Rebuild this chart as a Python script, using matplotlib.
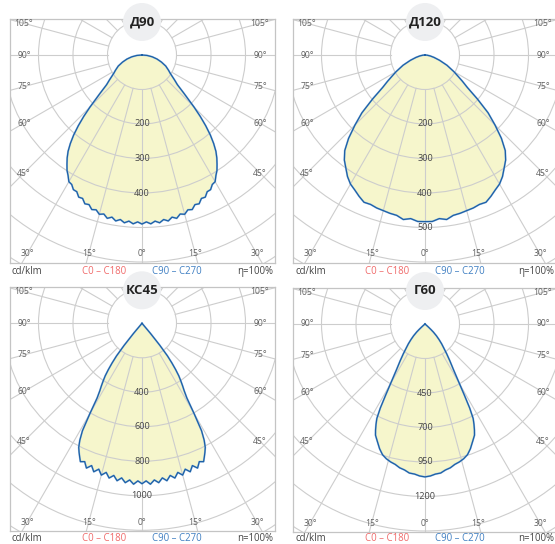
import numpy as np
import matplotlib
matplotlib.use("Agg")
import matplotlib.pyplot as plt
from matplotlib.patches import Circle

plt.rcParams['font.family'] = ['Open Sans', 'DejaVu Sans']

# Luminous intensity curves (cd/klm) vs. angle from nadir (deg), symmetric half-planes
d90_angles = [0, 1.5, 3, 4.5, 6, 7.5, 9, 10.5, 12, 13.5, 15, 16.5, 18, 19.5, 21, 22.5,
              24, 25.5, 27, 28.5, 30, 31.5, 33, 34.5, 36, 37.5, 39, 40.5, 42, 43.5, 45,
              47.5, 50, 52.5, 55, 57.5, 60, 65, 70, 75, 80, 85, 90]
d90_values = [490, 484, 490, 483, 489, 481, 487, 478, 484, 474, 478, 468, 471, 460, 462, 450,
              451, 439, 438, 427, 424, 410, 399, 384, 369, 352, 330, 305, 276, 245, 213,
              166, 134, 119, 106, 96, 89, 76, 60, 45, 30, 15, 0]

d120_angles = [0, 2.5, 5, 7.5, 10, 12.5, 15, 17.5, 20, 22.5, 25, 27.5, 30, 32.5, 35, 37.5,
               40, 42.5, 45, 47.5, 50, 52.5, 55, 57.5, 60, 65, 70, 75, 80, 85, 90]
d120_values = [483, 483, 476, 481, 472, 470, 467, 465, 461, 462, 452, 441, 432, 418, 400, 384,
               362, 328, 287, 248, 198, 155, 132, 112, 97, 70, 45, 27, 15, 6, 0]

kc45_angles = [0, 1.5, 3, 4.5, 6, 7.5, 9, 10.5, 12, 13.5, 15, 16.5, 18, 19.5, 21, 22.5,
               24, 25, 26, 27, 28, 29, 30, 31, 32, 33, 34, 35, 36, 37, 38, 39, 40, 41, 90]
kc45_values = [930, 914, 934, 911, 929, 904, 924, 897, 917, 889, 911, 882, 905, 875, 899, 868,
               878, 855, 832, 808, 768, 712, 603, 505, 462, 432, 402, 372, 332, 288, 240, 165,
               75, 0, 0]

g60_angles = [0, 2, 4, 6, 8, 10, 12, 14, 16, 18, 20, 22, 24, 25, 26, 27, 28, 29, 30,
              32, 34, 36, 38, 40, 42, 44, 46, 47, 48, 49, 50, 90]
g60_values = [1058, 1052, 1040, 1036, 1018, 1008, 990, 980, 966, 946, 912, 870, 832, 798, 760,
              719, 640, 535, 450, 338, 272, 218, 177, 150, 122, 96, 68, 48, 28, 12, 0, 0]

titles = ["Д90", "Д120", "КС45", "Г60"]
ring_first = [100, 100, 200, 200]
ring_step = [100, 100, 200, 250]
ring_labels = [[200, 300, 400], [200, 300, 400, 500], [400, 600, 800, 1000], [450, 700, 950, 1200]]
eff_labels = ["η=100%", "η=100%", "n=100%", "n=100%"]
angle_labels = [0, 15, 30, 45, 60, 75, 90, 105]
curves = [(d90_angles, d90_values), (d120_angles, d120_values),
          (kc45_angles, kc45_values), (g60_angles, g60_values)]

W, H = 555, 544
PX = 34.5                      # pixels per ring
panels = [(10, 19), (293, 19), (10, 287.3), (293, 288)]
PW, PH = 265, 244
CX, CY = 132, 36               # pole offset inside panel

GRID = '#cdcdcd'
FILL = '#f6f6cc'
LINE = '#1d5fa6'
HALO = '#7fb0de'

fig = plt.figure(figsize=(W / 100, H / 100), dpi=100)

for i, (L, T) in enumerate(panels):
    ax = fig.add_axes([L / W, 1 - (T + PH) / H, PW / W, PH / H])
    ax.set_xlim(-CX / PX, (PW - CX) / PX)
    ax.set_ylim(-(PH - CY) / PX, CY / PX)
    ax.set_xticks([])
    ax.set_yticks([])
    for s in ax.spines.values():
        s.set_color('#c4c4c4')
        s.set_linewidth(0.9)

    nr = 9
    ring_vals = [0] + [ring_first[i] + k * ring_step[i] for k in range(nr)]
    ring_idx = list(range(nr + 1))

    # concentric rings
    for k in range(1, nr):
        ax.add_patch(Circle((0, 0), k, fill=False, ec=GRID, lw=0.8, zorder=2))
    # radial rays every 15 degrees
    for a in range(0, 360, 15):
        r = np.radians(a)
        ax.plot([np.sin(r) * 1, np.sin(r) * 12], [-np.cos(r) * 1, -np.cos(r) * 12],
                color=GRID, lw=0.8, zorder=2)

    # intensity curve mirrored about nadir
    ang, val = curves[i]
    ang = np.asarray(ang, float)
    val = np.asarray(val, float)
    th = np.radians(np.concatenate([-ang[::-1], ang[1:]]))
    rv = np.concatenate([val[::-1], val[1:]])
    rho = np.interp(rv, ring_vals, ring_idx)
    x = rho * np.sin(th)
    y = -rho * np.cos(th)
    ax.fill(x, y, color=FILL, lw=0, zorder=1)
    ax.plot(x, y, color=HALO, lw=1.4, alpha=0.7, zorder=3, solid_joinstyle='round')
    ax.plot(x, y, color=LINE, lw=0.9, zorder=4, solid_joinstyle='round')

    # ring value labels along the nadir axis
    for v in ring_labels[i]:
        rr = np.interp(v, ring_vals, ring_idx)
        ax.text(0, -rr, str(v), ha='center', va='center', fontsize=6.6,
                color='#454545', zorder=5)

    # angle labels on the inner frame line
    xs = 118 / PX
    yb = 199 / PX
    for a in angle_labels:
        r = np.radians(a)
        sa, ca = np.sin(r), np.cos(r)
        t = xs / sa if sa > 1e-9 else np.inf
        if ca > 1e-9:
            t = min(t, yb / ca)
        for sgn in ([1] if a == 0 else [-1, 1]):
            ax.text(sgn * t * sa, -t * ca, f"{a}°", ha='center', va='center',
                    fontsize=6.2, color='#606060', zorder=5)

    # title badge
    ty = 33 / PX
    ax.add_patch(Circle((0, ty), 19 / PX, fc='#eeeff1', ec='none', zorder=6, clip_on=False))
    ax.text(0, ty, titles[i], ha='center', va='center', fontsize=9.5, fontweight='bold',
            color='#222222', zorder=7, clip_on=False)

    # legend line under the panel
    ly = 1 - min(T + PH + 8.8, 538.5) / H
    fig.text((L + 2) / W, ly, "cd/klm", ha='left', va='center', fontsize=6.9, color='#444444')
    fig.text((L + 94) / W, ly, "C0 – C180", ha='center', va='center', fontsize=6.9, color='#f06a6a')
    fig.text((L + 167) / W, ly, "C90 – C270", ha='center', va='center', fontsize=6.9, color='#3f7fc2')
    fig.text(min(L + 263, 554) / W, ly, eff_labels[i], ha='right', va='center', fontsize=6.9,
             color='#444444')

fig.savefig("out.png", dpi=100)
